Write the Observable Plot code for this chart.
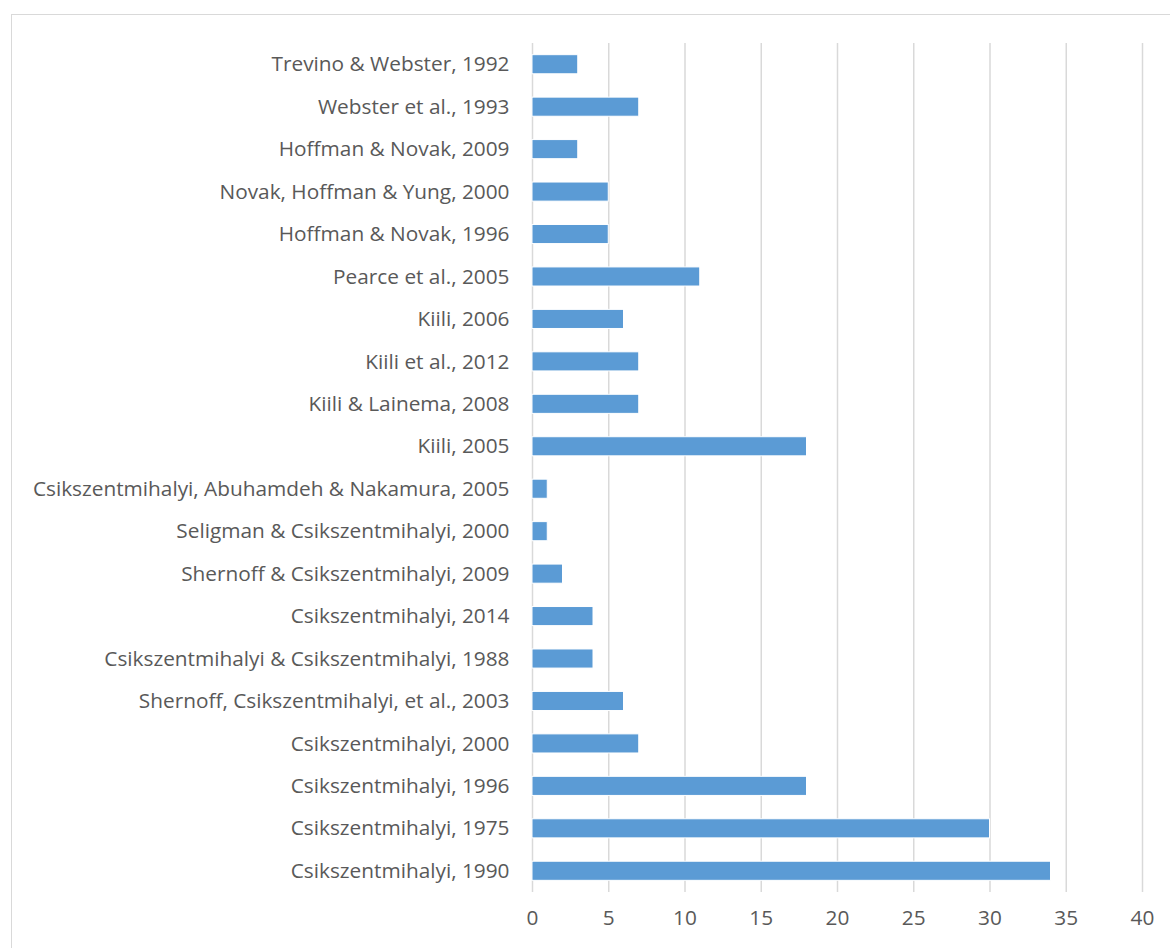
<!DOCTYPE html>
<html>
<head>
<meta charset="utf-8">
<script src="https://cdn.jsdelivr.net/npm/d3@7"></script>
<script src="https://cdn.jsdelivr.net/npm/@observablehq/plot@0.6"></script>
<style>
  html, body { margin: 0; padding: 0; background: #fff; overflow: hidden; width: 1170px; height: 948px; }
  #wrap { position: relative; width: 1170px; height: 948px; }
  #frame { position: absolute; left: 11px; top: 14px; width: 1200px; height: 1000px; border: 1px solid #d9d9d9; box-sizing: border-box; }
  #chart { position: absolute; left: 0; top: 0; }
</style>
</head>
<body>
<div id="wrap"><div id="frame"></div><div id="chart"></div></div>
<script>
const studies = [
  "Trevino & Webster, 1992",
  "Webster et al., 1993",
  "Hoffman & Novak, 2009",
  "Novak, Hoffman & Yung, 2000",
  "Hoffman & Novak, 1996",
  "Pearce et al., 2005",
  "Kiili, 2006",
  "Kiili et al., 2012",
  "Kiili & Lainema, 2008",
  "Kiili, 2005",
  "Csikszentmihalyi, Abuhamdeh & Nakamura, 2005",
  "Seligman & Csikszentmihalyi, 2000",
  "Shernoff & Csikszentmihalyi, 2009",
  "Csikszentmihalyi, 2014",
  "Csikszentmihalyi & Csikszentmihalyi, 1988",
  "Shernoff, Csikszentmihalyi, et al., 2003",
  "Csikszentmihalyi, 2000",
  "Csikszentmihalyi, 1996",
  "Csikszentmihalyi, 1975",
  "Csikszentmihalyi, 1990"
];
const counts = [3, 7, 3, 5, 5, 11, 6, 7, 7, 18, 1, 1, 2, 4, 4, 6, 7, 18, 30, 34];
const xTicks = [0, 5, 10, 15, 20, 25, 30, 35, 40];

const data = studies.map((s, i) => ({study: s, count: counts[i]}));

const chart = Plot.plot({
  width: 1170,
  height: 948,
  marginLeft: 532,
  marginRight: 28,
  marginTop: 43,
  marginBottom: 56,
  style: {fontFamily: "'Open Sans', sans-serif", fontSize: "20.8px", color: "#595959", background: "transparent"},
  x: {domain: [0, 40], ticks: xTicks, tickSize: 0, tickPadding: 18, label: null},
  y: {domain: studies, paddingInner: 0.55, paddingOuter: 0.275, round: false, tickSize: 0, tickPadding: 23, label: null},
  marks: [
    Plot.gridX(xTicks, {stroke: "#d9d9d9", strokeOpacity: 1, strokeWidth: 1.5}),
    Plot.barX(data, {y: "study", x: "count", fill: "#5b9bd5", stroke: "#ffffff", strokeWidth: 1})
  ]
});
document.getElementById("chart").appendChild(chart);
</script>
</body>
</html>
